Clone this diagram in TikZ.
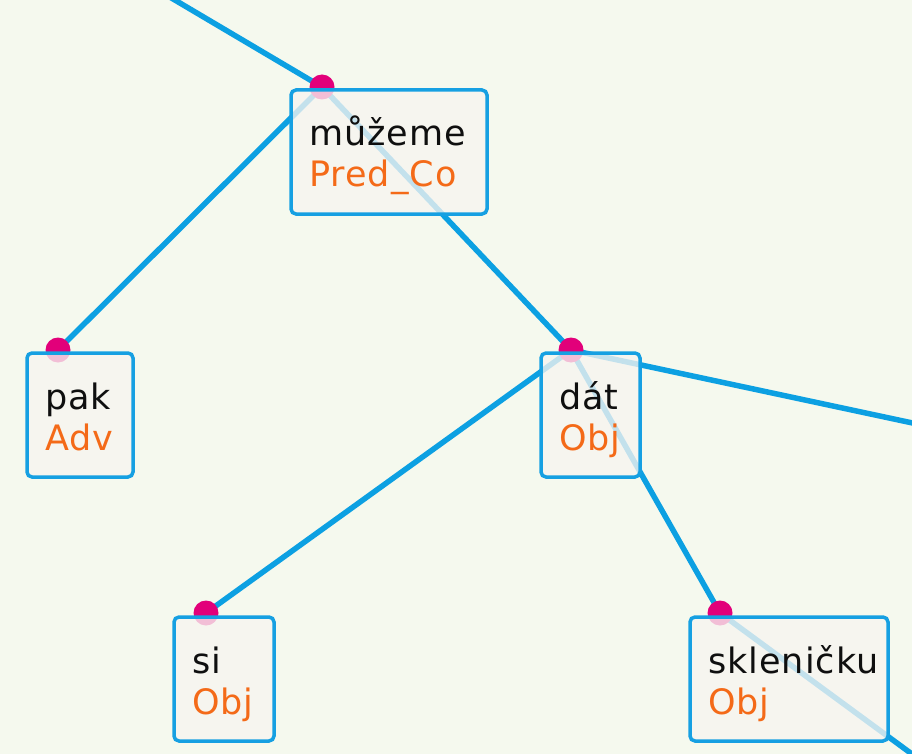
\documentclass[tikz,border=0pt]{standalone}
\usepackage{fontspec}
\setmainfont[LetterSpace=3]{DejaVu Sans}
\usetikzlibrary{calc}
\definecolor{bgc}{RGB}{245,249,238}
\definecolor{edgec}{RGB}{12,160,226}
\definecolor{boxc}{RGB}{247,244,240}
\definecolor{borderc}{RGB}{22,160,226}
\definecolor{dotc}{RGB}{226,0,122}
\definecolor{wordc}{RGB}{15,15,15}
\definecolor{relc}{RGB}{244,106,24}
\tikzset{
  wordbox/.style={draw=borderc, line width=3.5pt, rounded corners=5pt,
    fill=boxc, fill opacity=0.78, text opacity=1, draw opacity=1,
    anchor=north west, inner xsep=18pt, inner ysep=0pt, outer sep=0pt,
    align=left, text height=56pt, text depth=68pt,
    font=\fontsize{35}{41}\selectfont, text=wordc},
  dotnode/.style={circle, fill=dotc, minimum size=25pt, inner sep=0pt},
  edge/.style={draw=edgec, line width=5.5pt}
}
\newcommand{\rel}[1]{\textcolor{relc}{#1}}
\begin{document}
\begin{tikzpicture}[x=1pt,y=-1pt]
\useasboundingbox (0,0) rectangle (912,754);
\clip (0,0) rectangle (912,754);
\fill[bgc] (0,0) rectangle (912,754);
% node anchors (top-left corners)
\coordinate (pm) at (291,90);
\coordinate (pp) at (27,353);
\coordinate (pd) at (541,353);
\coordinate (ps) at (174,617);
\coordinate (pk) at (690,617);
% dot positions
\coordinate (cm) at ($(pm)+(31,-3)$);
\coordinate (cp) at ($(pp)+(31,-3)$);
\coordinate (cd) at ($(pd)+(30,-3)$);
\coordinate (cs) at ($(ps)+(32,-4)$);
\coordinate (ck) at ($(pk)+(30,-4)$);
% off-page ends
\coordinate (top) at (141,-20);
\coordinate (right) at (950,431);
\coordinate (bottom) at (950,782);
% edges
\draw[edge] (top) -- (cm);
\draw[edge] (cm) -- (cp);
\draw[edge] (cm) -- (cd);
\draw[edge] (cd) -- (cs);
\draw[edge] (cd) -- (ck);
\draw[edge] (cd) -- (right);
\draw[edge] (ck) -- (bottom);
% dots
\node[dotnode] (dm) at (cm) {};
\node[dotnode] (dp) at (cp) {};
\node[dotnode] (dd) at (cd) {};
\node[dotnode] (ds) at (cs) {};
\node[dotnode] (dk) at (ck) {};
% boxes
\node[wordbox, text width=160pt] (m) at (pm) {můžeme\\\rel{Pred\_Co}};
\node[wordbox, text width=70pt] (p) at (pp) {pak\\\rel{Adv}};
\node[wordbox, text width=63pt] (d) at (pd) {dát\\\rel{Obj}};
\node[wordbox, text width=64pt] (s) at (ps) {si\\\rel{Obj}};
\node[wordbox, text width=162pt] (k) at (pk) {skleničku\\\rel{Obj}};
\end{tikzpicture}
\end{document}
